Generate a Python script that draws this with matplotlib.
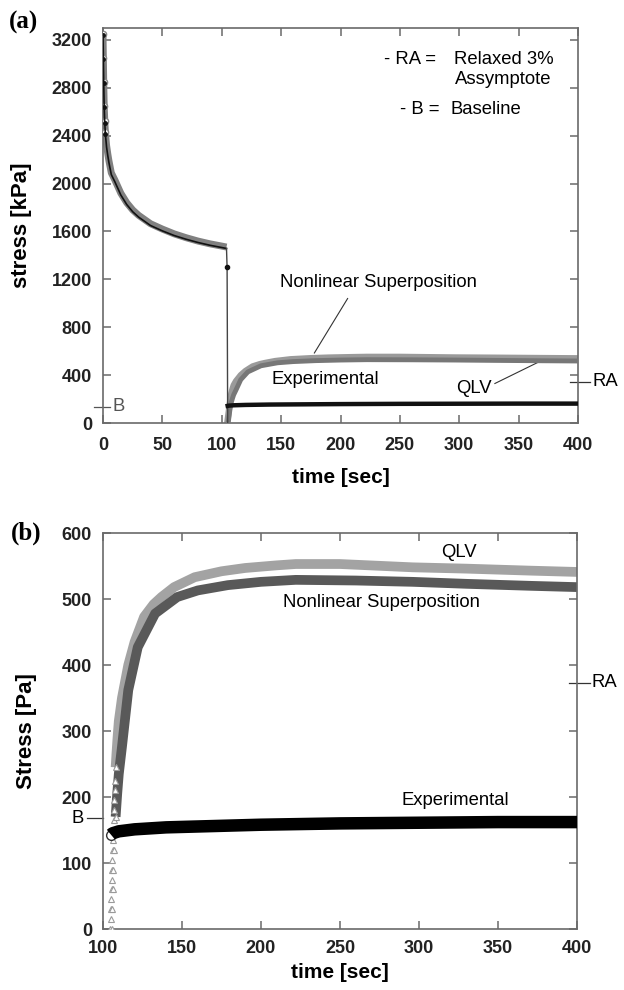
import matplotlib
matplotlib.use("Agg")
import matplotlib.pyplot as plt

plt.rcParams['font.family'] = ['Liberation Sans', 'DejaVu Sans']

# ---------------- data ----------------
# loading / relaxation phase (panel a only)
pre_time = [0, 0.3, 0.6, 1, 1.5, 2, 3, 4, 5, 7, 10, 15, 20, 25, 30, 40, 50, 60, 70, 80, 90, 100, 104]
pre_model = [3250, 3050, 2850, 2650, 2520, 2430, 2320, 2250, 2190, 2090, 2030, 1920, 1840, 1780, 1735,
             1665, 1620, 1580, 1548, 1520, 1497, 1478, 1470]
pre_exp = [3240, 3040, 2840, 2640, 2505, 2415, 2305, 2235, 2175, 2075, 2015, 1905, 1825, 1765, 1720,
           1650, 1605, 1566, 1535, 1508, 1485, 1466, 1458]
drop_time = [104, 104.5, 105]
drop_exp = [1458, 1300, 0]

# unloading / recovery phase
qlv_time = [104.6, 104.8, 105.0, 105.2, 105.4, 105.6, 105.8, 106.0, 106.2, 106.4, 106.6, 106.8,
            107.0, 107.2, 107.4, 107.6, 108.0, 108.5, 109.2, 110, 112, 116, 120, 126,
            132, 137, 145, 158, 175, 190, 210, 222, 250, 296, 330, 370, 400]
qlv_stress = [0, 15, 30, 45, 60, 75, 90, 105, 120, 135, 150, 165,
              180, 195, 210, 225, 245, 265, 290, 315, 350, 400, 435, 473,
              492, 503, 518, 533, 542, 547, 551, 553, 553, 548, 546, 543, 541]
nls_time = [105.4, 105.8, 106.2, 106.6, 107, 107.5, 108, 109, 110, 112, 116, 122, 133, 147, 160,
            179, 200, 222, 260, 296, 330, 370, 400]
nls_stress = [0, 30, 60, 90, 120, 145, 170, 205, 235, 276, 362, 427, 478, 503, 513,
              521, 526, 529, 528, 526, 523, 520, 518]
exp_time = [105, 106, 110, 120, 140, 170, 200, 250, 300, 350, 400]
exp_stress = [143, 145, 148, 151, 154, 156, 158, 160, 161, 162, 162]

ra_a, b_a = 345, 134
ra_b, b_b = 373, 168

a_xticks = [0, 50, 100, 150, 200, 250, 300, 350, 400]
a_yticks = [0, 400, 800, 1200, 1600, 2000, 2400, 2800, 3200]
b_xticks = [100, 150, 200, 250, 300, 350, 400]
b_yticks = [0, 100, 200, 300, 400, 500, 600]

# ---------------- figure ----------------
fig = plt.figure(figsize=(6.24, 9.9), dpi=100)
axA = fig.add_axes([103/624, 1-423/990, 475/624, 395/990])
axB = fig.add_axes([103/624, 1-929/990, 474/624, 396/990])

frame_col = '#6a6a6a'
TF = 13      # tick font
AF = 13.3    # annotation font
LF = 15      # axis label font


def style(ax, xt, yt):
    for s in ax.spines.values():
        s.set_color(frame_col)
        s.set_linewidth(1.2)
    ax.set_xticks(xt)
    ax.set_yticks(yt)
    ax.tick_params(direction='in', length=6, width=1.1, color=frame_col,
                   top=True, right=True, labelsize=TF, pad=8)
    for lab in ax.get_xticklabels() + ax.get_yticklabels():
        lab.set_fontweight('bold')
        lab.set_color('#222222')


# ---- panel (a) ----
axA.plot(pre_time, pre_model, color='#808080', lw=5, solid_capstyle='butt', zorder=2)
axA.plot(pre_time[:6], pre_model[:6], ls='none', marker='o', ms=4.5, mfc='white',
         mec='#888888', zorder=3)
axA.plot(pre_time, pre_exp, color='#111111', lw=1.2, zorder=4)
axA.plot(pre_time[:6], pre_exp[:6], ls='none', marker='o', ms=2.5, color='#111111', zorder=4)
axA.plot(drop_time, drop_exp, color='#444444', lw=1.0, zorder=4)
axA.plot(drop_time[1], drop_exp[1], 'o', ms=3, color='#111111', zorder=5)
axA.plot(qlv_time, qlv_stress, color='#9a9a9a', lw=4.5, zorder=2)
axA.plot(nls_time, nls_stress, color='#777777', lw=3.5, zorder=3)
axA.plot(exp_time, exp_stress, color='#111111', lw=3.2, zorder=4)

axA.set_xlim(0, 400)
axA.set_ylim(0, 3300)
style(axA, a_xticks, a_yticks)
axA.tick_params(axis='x', pad=10)
axA.set_xlabel('time [sec]', fontsize=LF, fontweight='bold', labelpad=10)
axA.set_ylabel('stress [kPa]', fontsize=LF + 1, fontweight='bold', labelpad=14)

axA.text(237, 3040, '- RA =', fontsize=AF, va='center', ha='left')
axA.text(296, 3040, 'Relaxed 3%', fontsize=AF, va='center', ha='left')
axA.text(296, 2870, 'Assymptote', fontsize=AF, va='center', ha='left')
axA.text(250, 2615, '- B =', fontsize=AF, va='center', ha='left')
axA.text(293, 2615, 'Baseline', fontsize=AF, va='center', ha='left')

axA.text(232, 1170, 'Nonlinear Superposition', fontsize=AF, ha='center', va='center')
axA.plot([206, 178], [1040, 585], color='#333333', lw=0.8)
axA.text(187, 360, 'Experimental', fontsize=AF, ha='center', va='center')
axA.text(312, 290, 'QLV', fontsize=AF, ha='center', va='center')
axA.plot([330, 368], [330, 515], color='#333333', lw=0.8)

axA.plot([393, 410], [ra_a, ra_a], color='#333333', lw=0.9, clip_on=False)
axA.text(412, ra_a, 'RA', fontsize=AF, ha='left', va='center')
axA.plot([-8, 6], [b_a, b_a], color='#555555', lw=0.9, clip_on=False)
axA.text(8, b_a, 'B', fontsize=AF, ha='left', va='center', color='#555555')

fig.text(9/624, 1-22/990, '(a)', family=['Liberation Serif', 'DejaVu Serif'],
         fontsize=18, fontweight='bold', va='center', ha='left')

# ---- panel (b) ----
k = 17
axB.plot(qlv_time[k-1:], qlv_stress[k-1:], color='#a3a3a3', lw=7, solid_capstyle='butt', zorder=2)
axB.plot(qlv_time[:k], qlv_stress[:k], ls='none', marker='^', ms=5, mfc='white',
         mec='#9a9a9a', mew=0.8, zorder=3)
axB.plot(nls_time[6:], nls_stress[6:], color='#595959', lw=7, solid_capstyle='butt', zorder=2)
axB.plot(nls_time[:7], nls_stress[:7], ls='none', marker='^', ms=5, mfc='white',
         mec='#9a9a9a', mew=0.8, zorder=3)
axB.plot(exp_time, exp_stress, color='#000000', lw=9, solid_capstyle='butt', zorder=4)
axB.plot(exp_time[0], exp_stress[0], 'o', ms=7, mfc='white', mec='#333333', zorder=3)

axB.set_xlim(100, 400)
axB.set_ylim(0, 600)
style(axB, b_xticks, b_yticks)
axB.tick_params(axis='x', pad=8)
axB.set_xlabel('time [sec]', fontsize=LF, fontweight='bold', labelpad=4)
axB.set_ylabel('Stress [Pa]', fontsize=LF + 1, fontweight='bold', labelpad=18)

axB.text(325, 570, 'QLV', fontsize=AF, ha='center', va='center')
axB.text(276, 495, 'Nonlinear Superposition', fontsize=AF, ha='center', va='center')
axB.text(323, 195, 'Experimental', fontsize=AF, ha='center', va='center')

axB.plot([395, 408], [ra_b, ra_b], color='#333333', lw=0.9, clip_on=False)
axB.text(409, ra_b, 'RA', fontsize=AF, ha='left', va='center')
axB.plot([90, 100], [b_b, b_b], color='#333333', lw=0.9, clip_on=False)
axB.text(88, b_b, 'B', fontsize=AF, ha='right', va='center')

fig.text(11/624, 1-533/990, '(b)', family=['Liberation Serif', 'DejaVu Serif'],
         fontsize=18, fontweight='bold', va='center', ha='left')

fig.savefig('out.png', dpi=100)
